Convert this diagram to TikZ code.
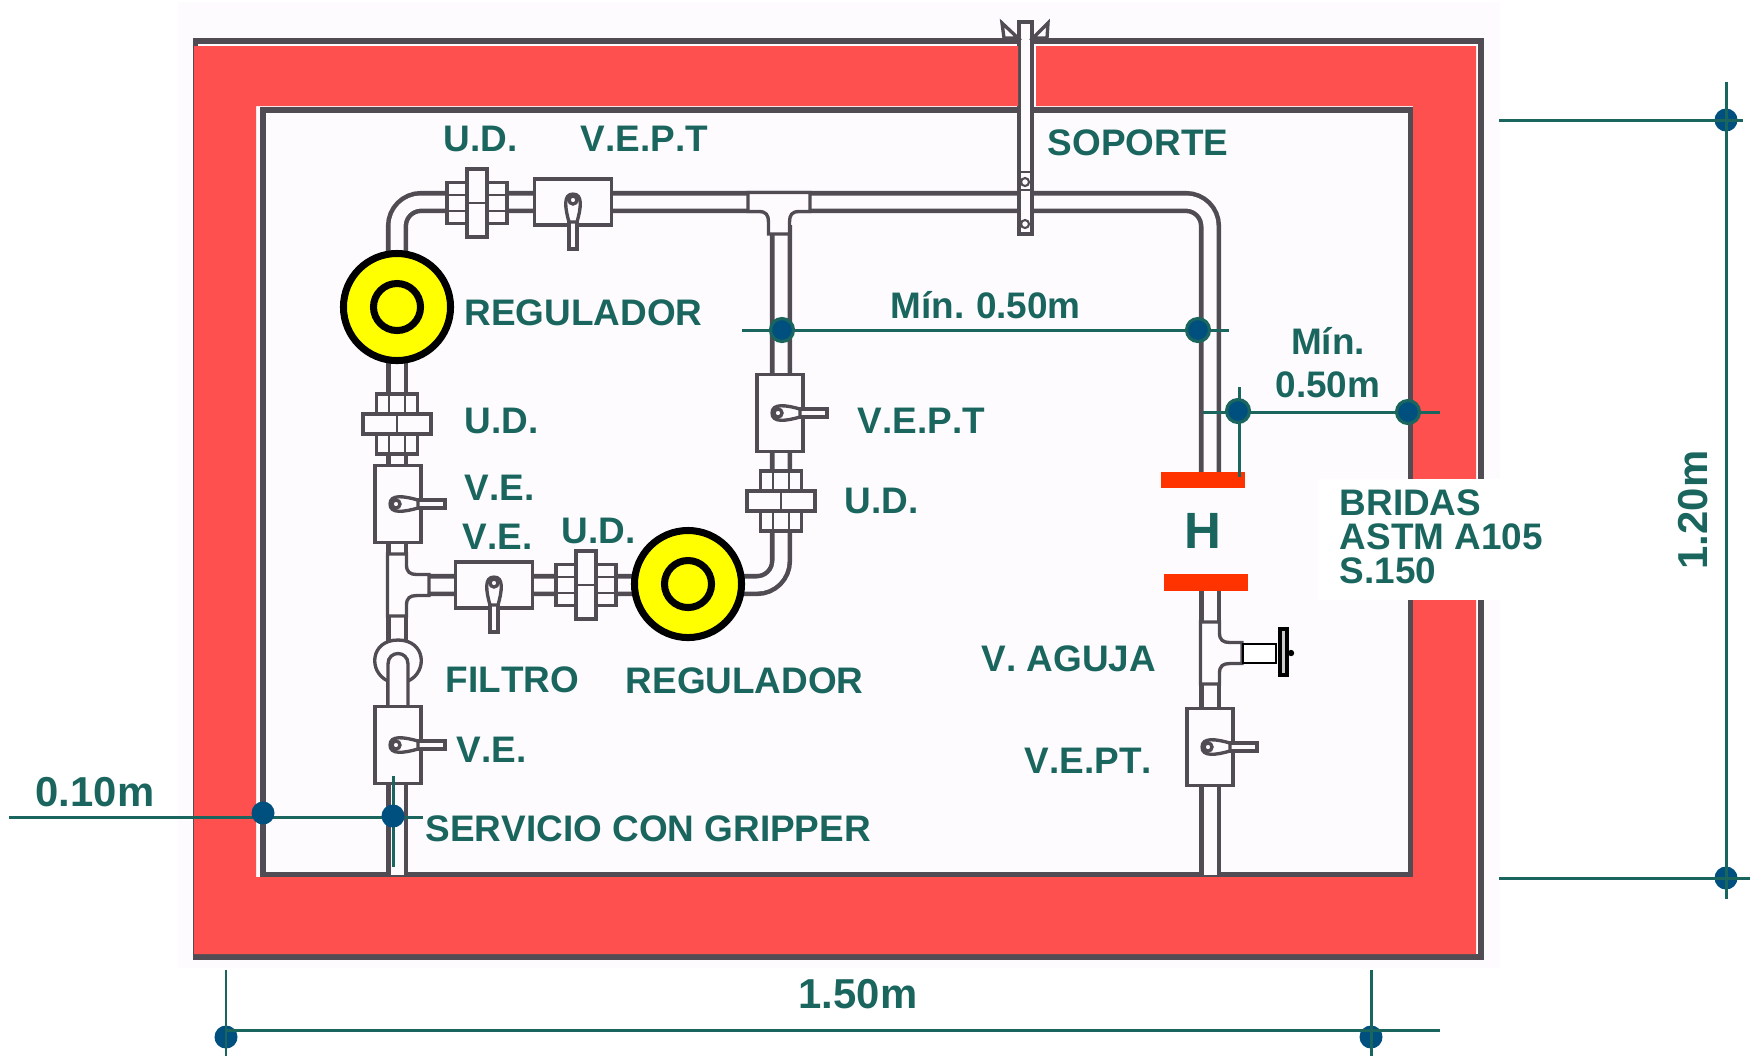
\documentclass[tikz,border=0pt]{standalone}
\usepackage{fontspec}
\setmainfont[Kerning=Off]{Liberation Sans}
\definecolor{dimteal}{HTML}{1A665F}
\definecolor{dotblue}{HTML}{00507F}
\definecolor{wallred}{HTML}{FF5050}
\definecolor{bridared}{HTML}{FF3300}
\definecolor{pipegray}{HTML}{514C54}
\definecolor{paper}{HTML}{FDFBFE}
\definecolor{regyellow}{HTML}{FFFF00}
\tikzset{
  lbl/.style={text=dimteal,font=\fontsize{10.5}{12.2}\selectfont\bfseries,inner sep=0pt,anchor=base west},
  biglbl/.style={lbl,font=\fontsize{11.9}{13}\selectfont\bfseries},
  wall/.style={draw=pipegray,line width=1.7pt},
  pipe/.style={draw=pipegray,line width=1.3pt,double=paper,double distance=3.7pt,rounded corners=.24cm},
  fit/.style={draw=pipegray,line width=.95pt,fill=paper},
  dimline/.style={draw=dimteal,line width=.85pt},
  dimdot/.style={circle,fill=dotblue,inner sep=0pt,minimum size=.23cm},
  rimdot/.style={circle,fill=dotblue,draw=dimteal,line width=.9pt,inner sep=0pt,minimum size=.23cm},
  regulador/.style={circle,draw=black,fill=regyellow,line width=2pt,inner sep=0pt,minimum size=1.07cm},
  reginner/.style={circle,draw=black,fill=regyellow,line width=2pt,inner sep=0pt,minimum size=.47cm},
  bridabar/.style={fill=bridared},
  pics/valvebox/.style={code={
    \draw[fit] (-38.5,-23) rectangle (38.5,23);
    \draw[fit] (-4,19) -- (-4,47) -- (4,47) -- (4,19);
    \draw[fit] (0,-8) .. controls (-10,-8) and (-8,6) .. (-4,20) -- (4,20) .. controls (8,6) and (10,-8) .. (0,-8);
    \draw[fit] (0,-2) circle[radius=4];
  }},
  pics/unionfit/.style={code={
    \draw[fit] (-30,-20.5) rectangle (30,20.5);
    \draw[pipegray,line width=.6pt] (-30,-8) -- (30,-8);
    \draw[pipegray,line width=.6pt] (-30,8) -- (30,8);
    \draw[fit] (-10,-34) rectangle (10,34);
    \draw[pipegray,line width=.6pt] (-10,0) -- (10,0);
  }},
  pics/teefit/.style={code={
    \draw[fit] (-31,-9.5) -- (31,-9.5) -- (31,9.5) -- (20,9.5) .. controls (13,9.5) and (10.5,13) .. (10.5,20) -- (10.5,32) -- (-10.5,32) -- (-10.5,20) .. controls (-10.5,13) and (-13,9.5) .. (-20,9.5) -- (-31,9.5) -- cycle;
  }},
}
\begin{document}
\begin{tikzpicture}[x=.01cm,y=-.01cm]
\useasboundingbox (0,0) rectangle (1752,1056);
\fill[paper] (178,2) rectangle (1500,968);
\draw[wall] (195.5,41) rectangle (1481,957);
\draw[wall] (263,110) rectangle (1411,875);

\draw[pipe] (397,310) -- (397,202) -- (1210,202) -- (1210,480);
\draw[pipe] (397,300) -- (397,645);
\draw[pipe] (397,660) -- (397,875);
\draw[pipe] (410,585) -- (781,585) -- (781,225);
\draw[pipe] (1210,585) -- (1210,875);

\path (477,203) pic {unionfit};
\path (573,202) pic {valvebox};
\path (779,202) pic {teefit};
\path (780,413) pic[rotate=90] {valvebox};
\path (781,501) pic[rotate=90] {unionfit};
\path (397,424) pic[rotate=90] {unionfit};
\path (398,504) pic[rotate=90] {valvebox};
\path (397,585) pic[rotate=90] {teefit};
\path (494,585) pic {valvebox};
\path (586,585) pic {unionfit};
\draw[fit] (388,681) .. controls (368,672) and (370,640) .. (398,640) .. controls (426,640) and (428,672) .. (408,681);
\draw[fit] (388,708) -- (388,664) .. controls (388,650) and (408,650) .. (408,664) -- (408,708);
\path (398,745) pic[rotate=90] {valvebox};
\path (1210,653) pic[rotate=90] {teefit};
\path (1210,747) pic[rotate=90] {valvebox};

\draw[fill=white,line width=.7pt] (1243,644) rectangle (1276,663);
\draw[fill=black!20,line width=1pt] (1280,629) rectangle (1287,675);
\fill (1291,653) circle[radius=3.2];

\draw[fit] (1019,22) rectangle (1032,234);
\draw[fit] (1002,23) -- (1018,38) -- (1004,38) -- cycle;
\draw[fit] (1048,23) -- (1033,38) -- (1047,38) -- cycle;
\draw[pipegray,line width=.6pt] (1019,172) -- (1032,172);
\draw[pipegray,line width=.6pt] (1019,190) -- (1032,190);
\draw[pipegray,line width=.6pt] (1025,182) circle[radius=4];
\draw[pipegray,line width=.6pt] (1025,224) circle[radius=4];

\fill[wallred] (194,46) -- (1018,46) -- (1018,106) -- (256,106) -- (256,877) -- (1413,877) -- (1413,106) -- (1036,106) -- (1036,46) -- (1476,46) -- (1476,954) -- (194,954) -- cycle;
\fill[white] (1318,479) rectangle (1500,600);

\node[regulador] (regA) at (397,307) {};
\node[reginner] (regAin) at (397,307) {};
\node[regulador] (regB) at (688,584) {};
\node[reginner] (regBin) at (688,584) {};

\fill[bridabar] (1161,472) rectangle (1245,488);
\fill[bridabar] (1164,574) rectangle (1248,591);

\coordinate (minAl) at (742,330);
\coordinate (minAr) at (1229,330);
\coordinate (minBl) at (1203,412);
\coordinate (minBr) at (1440,412);
\coordinate (minBt) at (1239,387);
\coordinate (minBb) at (1239,477);
\draw[dimline] (minAl) -- (minAr);
\draw[dimline] (minBl) -- (minBr);
\draw[dimline] (minBt) -- (minBb);
\node[rimdot] (dotAl) at (782,330) {};
\node[rimdot] (dotAr) at (1198,330) {};
\node[rimdot] (dotBl) at (1238,411) {};
\node[rimdot] (dotBr) at (1408,412) {};

\coordinate (altT) at (1726,82);
\coordinate (altB) at (1726,899);
\coordinate (altTl) at (1499,120);
\coordinate (altTr) at (1743,120);
\coordinate (altBl) at (1499,878);
\coordinate (altBr) at (1750,878);
\node[dimdot] (dotT) at (1726,120) {};
\node[dimdot] (dotB) at (1726,878) {};
\draw[dimline] (altT) -- (altB);
\draw[dimline] (altTl) -- (altTr);
\draw[dimline] (altBl) -- (altBr);

\coordinate (ancL) at (226,970);
\coordinate (ancLb) at (226,1056);
\coordinate (ancR) at (1371,970);
\coordinate (ancRb) at (1371,1056);
\coordinate (ancHl) at (226,1030);
\coordinate (ancHr) at (1440,1030);
\node[dimdot] (dotL) at (226,1037) {};
\node[dimdot] (dotR) at (1371,1037) {};
\draw[dimline] (ancL) -- (ancLb);
\draw[dimline] (ancR) -- (ancRb);
\draw[dimline] (ancHl) -- (ancHr);

\coordinate (sepL) at (9,817);
\coordinate (sepR) at (423,817);
\coordinate (sepT) at (393,776);
\coordinate (sepB) at (393,867);
\draw[dimline] (sepL) -- (sepR);
\draw[dimline] (sepT) -- (sepB);
\node[dimdot] (dotSa) at (263,813) {};
\node[dimdot] (dotSb) at (393,816) {};

\node[lbl] (udA) at (443,151) {U.D.};
\node[lbl] (veptA) at (580,151) {V.E.P.T};
\node[lbl] (soporte) at (1047,155) {SOPORTE};
\node[lbl] (regtxtA) at (464,325) {REGULADOR};
\node[lbl] (minA) at (890,318) {Mín.\hspace{-.6pt} 0.50m};
\node[lbl,anchor=center,align=center] (minB) at (1328,363) {Mín.\\0.50m};
\node[lbl] (udB) at (464,433) {U.D.};
\node[lbl] (veptB) at (857,433) {V.E.P.T};
\node[lbl] (veA) at (464,500) {V.E.};
\node[lbl] (veB) at (462,549) {V.E.};
\node[lbl] (udC) at (561,543) {U.D.};
\node[lbl] (udD) at (844,513) {U.D.};
\node[lbl] (filtro) at (445,692) {FILTRO};
\node[lbl] (regtxtB) at (625,693) {REGULADOR};
\node[lbl] (veC) at (456,762) {V.E.};
\node[lbl] (servicio) at (425,841) {SERVICIO CON GRIPPER};
\node[lbl] (aguja) at (981,671) {V. AGUJA};
\node[lbl] (veptC) at (1024,773) {V.E.PT.};
\node[lbl,font=\fontsize{14.5}{16}\selectfont\bfseries] (hache) at (1183.5,548) {H};
\node[lbl,anchor=north west,align=left,font=\fontsize{10.5}{9.6}\selectfont\bfseries] (bridas) at (1339,489) {BRIDAS\\ASTM A105\\S.150};
\node[biglbl] (sepxt) at (35,806) {0.10m};
\node[biglbl] (ancxt) at (798,1008) {1.50m};
\node[biglbl,anchor=base,rotate=90] (altxt) at (1707,510) {1.20m};
\end{tikzpicture}
\end{document}
